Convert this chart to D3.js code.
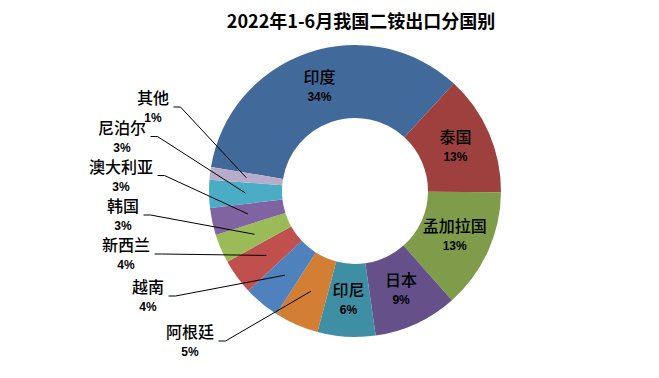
<!DOCTYPE html>
<html>
<head>
<meta charset="utf-8">
<script src="https://cdn.jsdelivr.net/npm/d3@7"></script>
<style>
  html, body { margin: 0; padding: 0; background: #fff; }
  svg { display: block; }
</style>
</head>
<body>
<svg id="chart" width="659" height="378"></svg>
<script>
const title = "2022年1-6月我国二铵出口分国别";
const categories = ["印度","泰国","孟加拉国","日本","印尼","阿根廷","越南","新西兰","韩国","澳大利亚","尼泊尔","其他"];
const values = [34.2, 13.3, 13.3, 9.3, 6.4, 4.9, 4.0, 3.9, 3.2, 3.0, 3.1, 1.4];
const colors = ["#416A9B","#9E413E","#7F9C4A","#65508A","#3E8EA4","#D27F35","#4F81BD","#C0504D","#9BBB59","#8064A2","#4BACC6","#B7ADCB"];

// layout: outer label anchors (center x, name center y) for slices labelled outside
const outerLabelPos = {
  "阿根廷": [190, 332],
  "越南": [148, 287],
  "新西兰": [126, 245],
  "韩国": [123, 206],
  "澳大利亚": [121, 166.5],
  "尼泊尔": [122, 127.5],
  "其他": [153, 98]
};

const W = 659, H = 378;
const cx = 355, cy = 191, rOuter = 146, rInner = 73;
const svg = d3.select("#chart");

svg.append("text")
  .attr("x", 361).attr("y", 28)
  .attr("text-anchor", "middle")
  .attr("font-family", "'Noto Sans CJK SC', sans-serif")
  .attr("font-weight", "bold")
  .attr("font-size", 18)
  .attr("fill", "#000")
  .text(title);

const start = -80.5 * Math.PI / 180;
const pie = d3.pie().sort(null).value(d => d).startAngle(start).endAngle(start + 2 * Math.PI);
const arcs = pie(values);
const arc = d3.arc().innerRadius(rInner).outerRadius(rOuter);
const mid = d3.arc().innerRadius(109.5).outerRadius(109.5);

const g = svg.append("g").attr("transform", `translate(${cx},${cy})`);
g.selectAll("path.slice").data(arcs).enter().append("path")
  .attr("class", "slice")
  .attr("d", arc)
  .attr("fill", (d, i) => colors[i]);

const nameFont = "'Noto Sans CJK SC', sans-serif";
const pctFont = "'Liberation Sans', Arial, sans-serif";

function addLabel(x, y, name, pct) {
  svg.append("text")
    .attr("x", x).attr("y", y + 6)
    .attr("text-anchor", "middle")
    .attr("font-family", nameFont)
    .attr("font-weight", 500)
    .attr("font-size", 16)
    .attr("fill", "#000")
    .text(name);
  svg.append("text")
    .attr("x", x).attr("y", y + 20 + 4.3)
    .attr("text-anchor", "middle")
    .attr("font-family", pctFont)
    .attr("font-weight", "bold")
    .attr("font-size", 12)
    .attr("fill", "#000")
    .text(pct);
}

arcs.forEach((d, i) => {
  const name = categories[i];
  const pct = Math.round(values[i]) + "%";
  const c = mid.centroid(d);
  const px = cx + c[0], py = cy + c[1];
  if (outerLabelPos[name]) {
    const [lx, ly] = outerLabelPos[name];
    const halfW = name.length * 8;
    const sx = lx + halfW + 4.5, sy = ly + 9;
    svg.append("polyline")
      .attr("points", `${sx},${sy} ${sx + 7},${sy} ${px},${py}`)
      .attr("fill", "none")
      .attr("stroke", "#000")
      .attr("stroke-width", 1);
    addLabel(lx, ly, name, pct);
  } else {
    addLabel(px, py - 10.5, name, pct);
  }
});
</script>
</body>
</html>
